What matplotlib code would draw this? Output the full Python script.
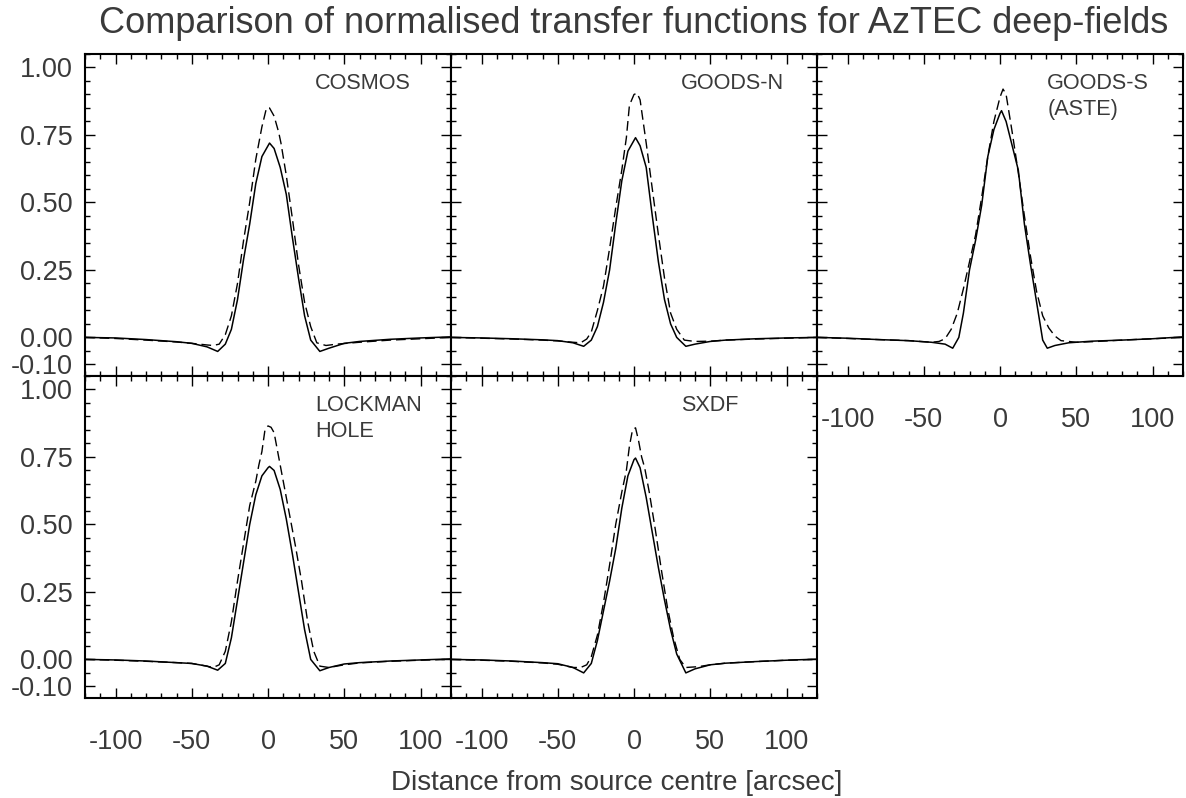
import numpy as np
import matplotlib
matplotlib.use('Agg')
import matplotlib.pyplot as plt
from matplotlib.ticker import MultipleLocator, FixedLocator, FormatStrFormatter

plt.rcParams['font.family'] = ['Liberation Sans', 'DejaVu Sans']
plt.rcParams['axes.unicode_minus'] = False

# ---------- values ---------- #

fields = ['COSMOS', 'GOODS-N', 'GOODS-S\n(ASTE)', 'LOCKMAN\nHOLE', 'SXDF']

# COSMOS: solid and dashed transfer function
cosmos_x = [-120,-100,-80,-60,-50,-40,-33,-28,-24,-20,-16,-12,-8,-4,0,1,4,8,12,16,20,24,28,34,40,50,60,80,100,120]
cosmos_tf = [0.0,-0.002,-0.008,-0.016,-0.022,-0.035,-0.052,-0.025,0.03,0.14,0.29,0.42,0.57,0.67,0.71,0.72,0.70,0.63,0.53,0.37,0.22,0.08,-0.01,-0.052,-0.04,-0.022,-0.015,-0.007,-0.002,0.002]
cosmos_dx = [-120,-100,-80,-60,-50,-40,-36,-32,-28,-24,-20,-16,-12,-8,-4,-1,1,4,7,8.5,12,16,20,24,28,32,38,45,60,80,100,120]
cosmos_dtf = [0.0,-0.004,-0.01,-0.017,-0.022,-0.028,-0.03,-0.025,0.01,0.08,0.20,0.36,0.50,0.66,0.78,0.85,0.85,0.82,0.76,0.72,0.60,0.44,0.27,0.13,0.04,-0.02,-0.03,-0.025,-0.018,-0.01,-0.005,0.0]

# GOODS-N
goodsn_x = [-120,-100,-80,-60,-50,-40,-33,-28,-24,-20,-16,-12,-8,-4,0,1,4,8,12,16,20,24,28,34,40,50,60,80,100,120]
goodsn_tf = [0.0,-0.002,-0.005,-0.009,-0.012,-0.02,-0.033,-0.01,0.04,0.13,0.25,0.42,0.58,0.69,0.73,0.74,0.71,0.63,0.45,0.28,0.14,0.05,0.0,-0.033,-0.025,-0.015,-0.01,-0.005,-0.002,0.0]
goodsn_dx = [-120,-100,-80,-60,-50,-40,-35,-31,-28,-24,-20,-16,-12,-8,-5,-3,0,2,4,6,8,12,16,20,24,28,33,40,50,60,80,100,120]
goodsn_dtf = [0.0,-0.003,-0.006,-0.01,-0.013,-0.018,-0.02,-0.006,0.02,0.10,0.19,0.33,0.48,0.62,0.74,0.86,0.90,0.905,0.88,0.80,0.72,0.55,0.38,0.22,0.09,0.03,-0.01,-0.015,-0.014,-0.01,-0.006,-0.003,0.0]

# GOODS-S (ASTE)
goodss_x = [-120,-100,-80,-60,-45,-36,-31,-27,-24,-20,-16,-12,-8,-4,0,1,4,8,12,16,20,24,28,31,36,45,60,80,100,120]
goodss_tf = [0.0,-0.003,-0.008,-0.012,-0.018,-0.025,-0.04,0.0,0.09,0.25,0.36,0.49,0.67,0.77,0.83,0.84,0.80,0.71,0.62,0.42,0.27,0.13,-0.01,-0.04,-0.03,-0.02,-0.014,-0.01,-0.005,0.002]
goodss_dx = [-120,-100,-80,-60,-45,-40,-36,-32,-28,-24,-20,-16,-12,-8,-4,0,2,4,8,12,16,20,24,28,32,36,40,50,60,80,100,120]
goodss_dtf = [0.0,-0.004,-0.008,-0.012,-0.018,-0.015,-0.005,0.03,0.09,0.18,0.28,0.38,0.52,0.67,0.80,0.89,0.92,0.90,0.76,0.61,0.45,0.30,0.17,0.08,0.035,0.005,-0.012,-0.018,-0.016,-0.01,-0.005,0.0]

# LOCKMAN HOLE
lockman_x = [-120,-100,-80,-60,-50,-40,-33,-28,-24,-20,-16,-12,-8,-4,0,1,4,8,12,16,20,24,28,34,40,50,60,80,100,120]
lockman_tf = [0.0,-0.002,-0.006,-0.012,-0.015,-0.025,-0.04,-0.015,0.08,0.22,0.36,0.50,0.61,0.68,0.71,0.715,0.70,0.63,0.52,0.39,0.25,0.11,0.0,-0.042,-0.03,-0.017,-0.012,-0.006,-0.002,0.002]
lockman_dx = [-120,-100,-80,-60,-50,-40,-36,-32,-28,-24,-20,-16,-12,-8,-6,-4,-2,0,2,4,6,8,10,14,18,22,26,30,34,40,50,60,80,100,120]
lockman_dtf = [0.0,-0.003,-0.007,-0.012,-0.015,-0.025,-0.03,-0.02,0.03,0.14,0.29,0.43,0.57,0.66,0.72,0.77,0.85,0.865,0.86,0.84,0.78,0.72,0.66,0.54,0.42,0.29,0.14,0.03,-0.025,-0.03,-0.02,-0.013,-0.007,-0.003,0.0]

# SXDF
sxdf_x = [-120,-100,-80,-60,-50,-40,-33,-28,-24,-20,-16,-12,-8,-4,0,1,4,8,12,16,20,24,28,34,40,50,60,80,100,120]
sxdf_tf = [0.0,-0.002,-0.006,-0.012,-0.016,-0.03,-0.05,-0.015,0.07,0.18,0.29,0.41,0.56,0.68,0.74,0.746,0.71,0.60,0.47,0.34,0.22,0.11,0.02,-0.05,-0.035,-0.02,-0.014,-0.008,-0.003,0.001]
sxdf_dx = [-120,-100,-80,-60,-50,-40,-35,-31,-28,-24,-20,-16,-12,-8,-5,-3,-1,1,3,5,7,10,14,18,22,26,30,34,42,50,60,80,100,120]
sxdf_dtf = [0.0,-0.003,-0.007,-0.013,-0.018,-0.03,-0.03,-0.02,0.01,0.09,0.21,0.35,0.50,0.62,0.70,0.79,0.85,0.858,0.81,0.75,0.71,0.62,0.48,0.33,0.19,0.08,0.0,-0.03,-0.027,-0.02,-0.014,-0.008,-0.003,0.0]

solid_x = [cosmos_x, goodsn_x, goodss_x, lockman_x, sxdf_x]
solid_y = [cosmos_tf, goodsn_tf, goodss_tf, lockman_tf, sxdf_tf]
dash_x = [cosmos_dx, goodsn_dx, goodss_dx, lockman_dx, sxdf_dx]
dash_y = [cosmos_dtf, goodsn_dtf, goodss_dtf, lockman_dtf, sxdf_dtf]

yticks = [-0.10, 0.0, 0.25, 0.50, 0.75, 1.00]

# ---------- layout (pixels of the 1186x798 figure) ---------- #

W, H = 1186, 798
pw, ph = 366, 322
corners = [(85, 54), (451, 54), (817, 54), (85, 376), (451, 376)]
txt = '#3a3a3a'

fig = plt.figure(figsize=(W/100, H/100), dpi=100)

for i in range(5):
	left, top = corners[i]
	ax = fig.add_axes([left/W, 1-(top+ph)/H, pw/W, ph/H])
	ax.plot(solid_x[i], solid_y[i], '-', color='black', lw=1.1)
	ax.plot(dash_x[i], dash_y[i], '--', color='black', lw=1.0, dashes=(7, 3.5))
	ax.set_xlim(-120, 120)
	ax.set_ylim(-0.143, 1.05)
	ax.xaxis.set_major_locator(MultipleLocator(50))
	ax.xaxis.set_minor_locator(MultipleLocator(10))
	ax.yaxis.set_major_locator(FixedLocator(yticks))
	ax.yaxis.set_minor_locator(MultipleLocator(0.05))
	ax.yaxis.set_major_formatter(FormatStrFormatter('%.2f'))
	ax.tick_params(which='both', direction='in', top=True, right=True,
		colors='black', labelcolor=txt, labelsize=19.5)
	ax.tick_params(which='major', length=7, width=1.0)
	ax.tick_params(which='minor', length=3.5, width=1.0)
	ax.tick_params(axis='x', pad=22)
	ax.tick_params(axis='y', pad=9)
	ax.tick_params(labelleft=(i in (0, 3)), labelbottom=(i in (2, 3, 4)))
	for s in ax.spines.values():
		s.set_linewidth(1.5)
	ax.text(31, 0.978, fields[i], ha='left', va='top', fontsize=15.6,
		color=txt, linespacing=1.3)

fig.text(634/W, 1-33/H, 'Comparison of normalised transfer functions for AzTEC deep-fields',
	ha='center', va='baseline', fontsize=26, color=txt)
fig.text(617/W, 1-783/H, 'Distance from source centre [arcsec]',
	ha='center', va='center', fontsize=20, color=txt)

fig.savefig('out.png', dpi=100)
plt.close()
